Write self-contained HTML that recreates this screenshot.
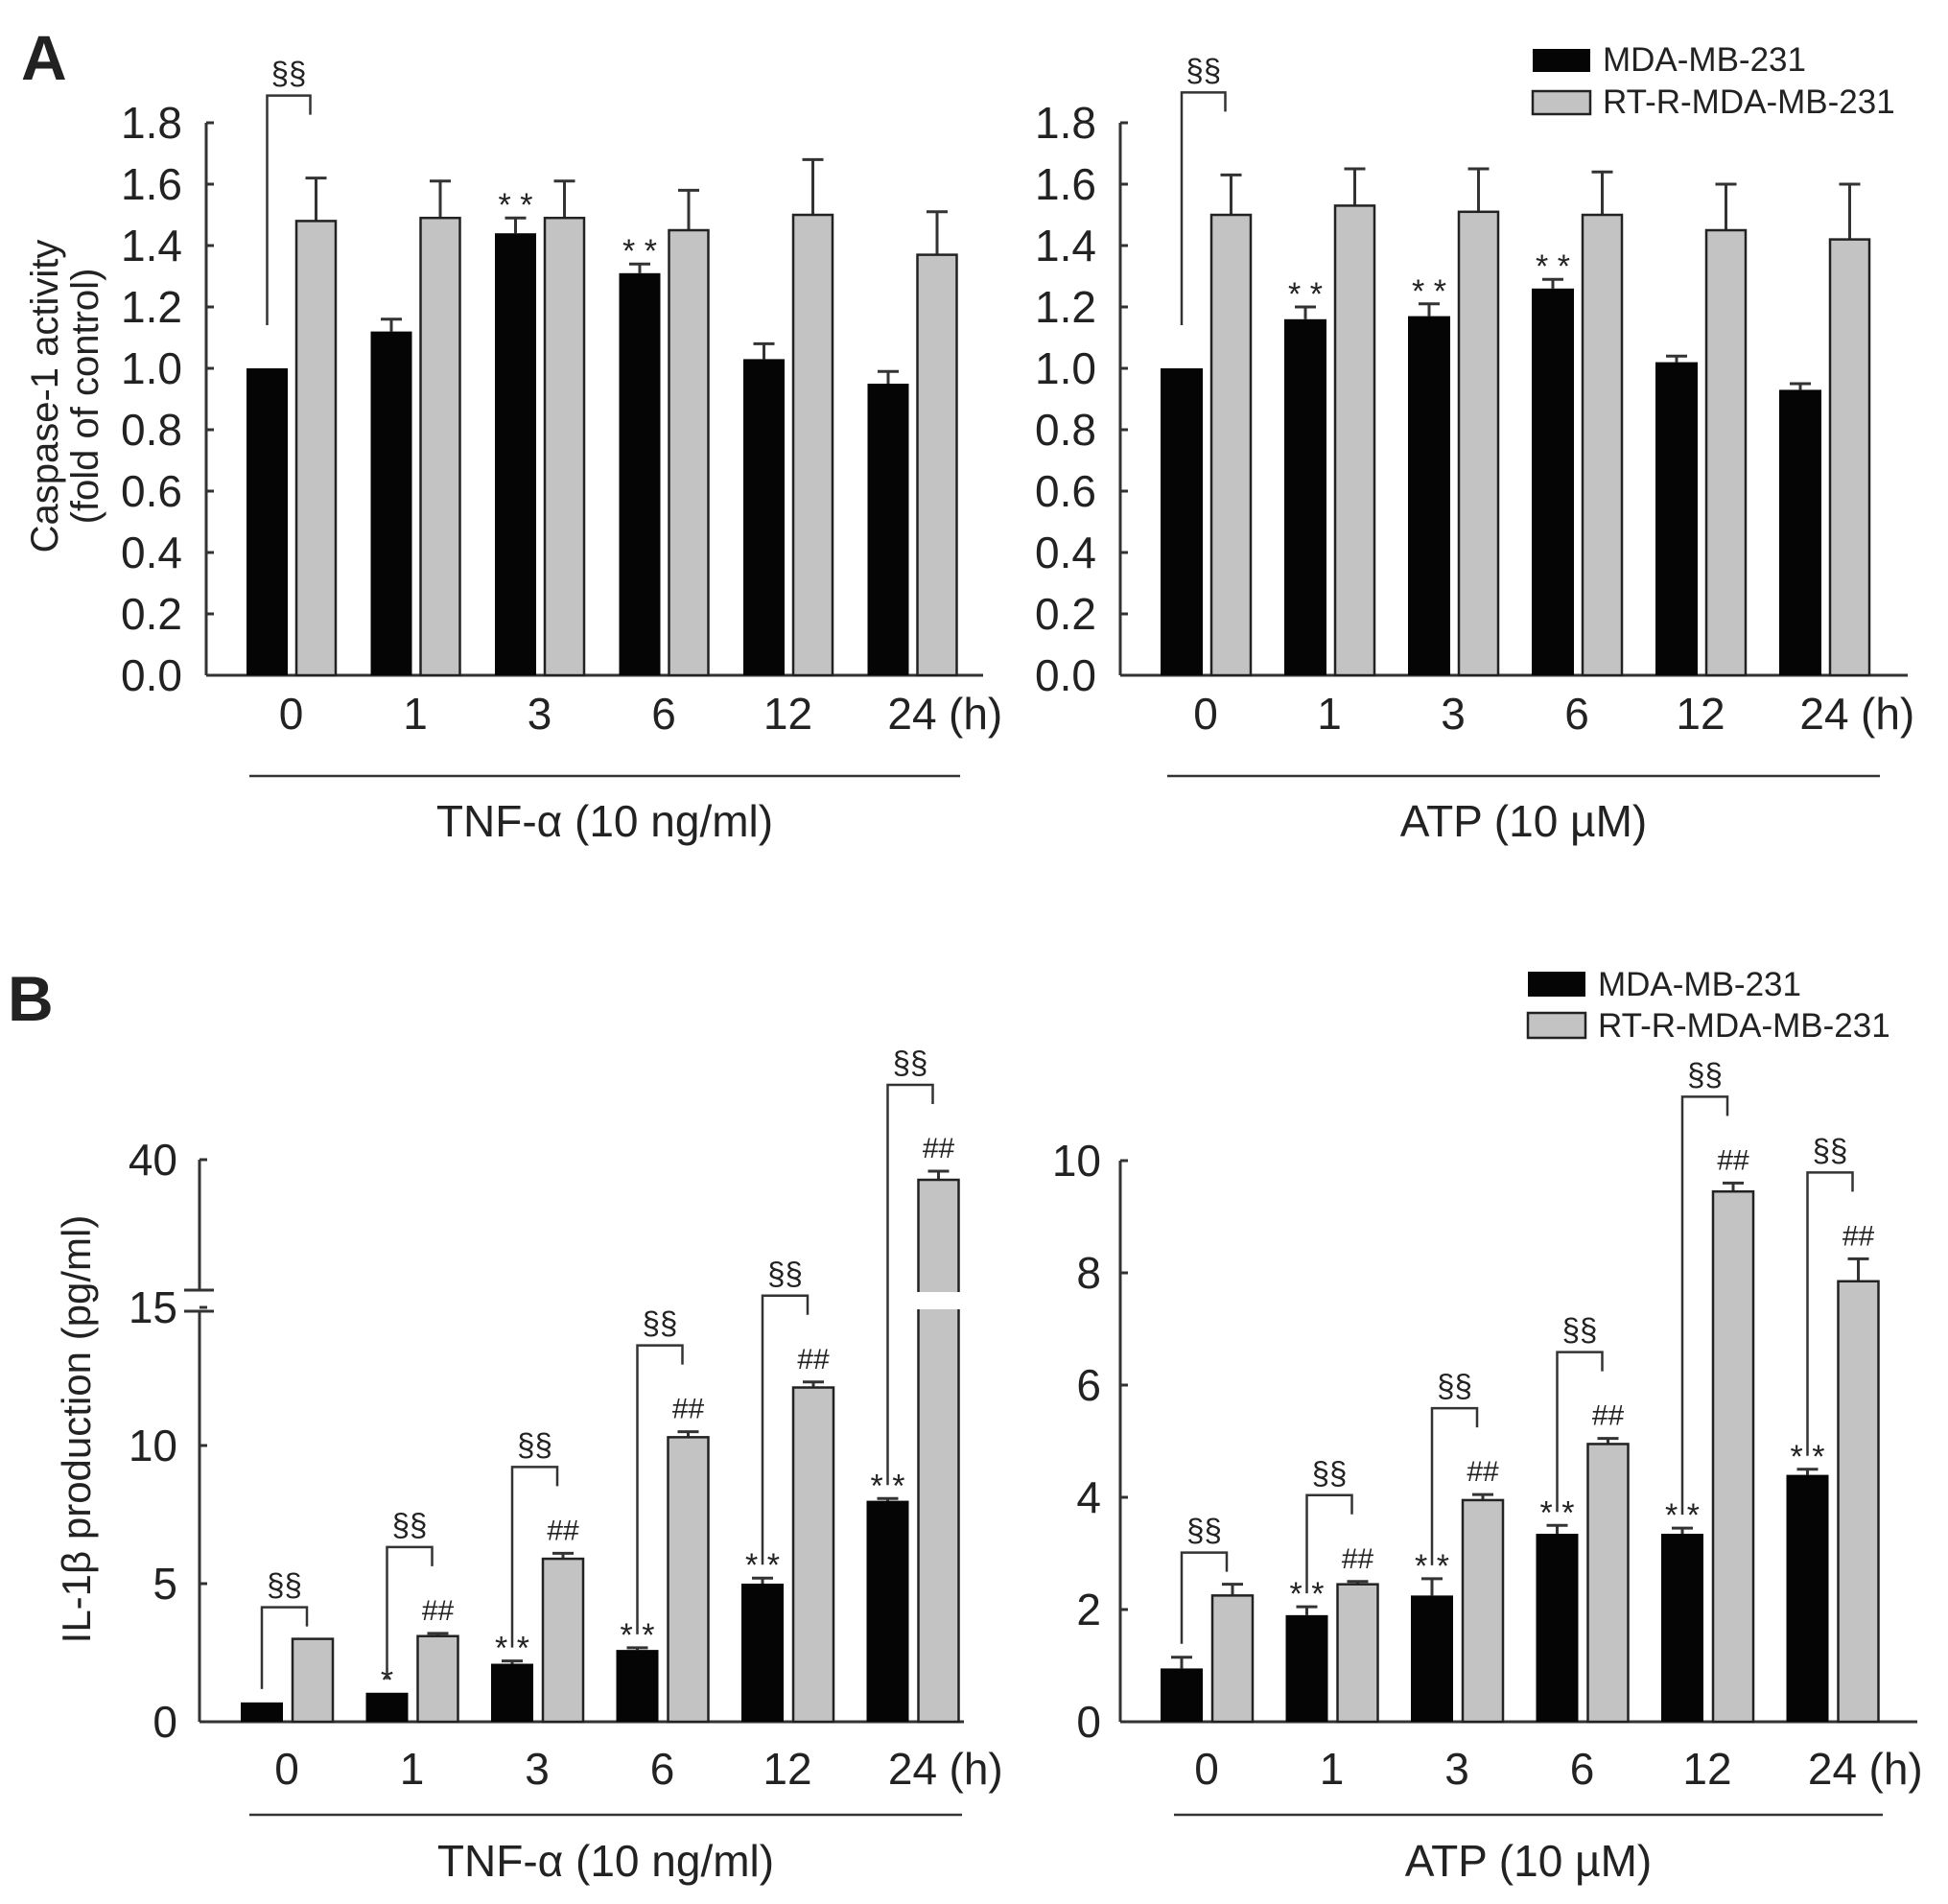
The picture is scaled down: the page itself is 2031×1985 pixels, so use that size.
<!DOCTYPE html>
<html><head><meta charset="utf-8"><style>
html,body{margin:0;padding:0;background:#fff;}
svg{display:block;}
text{font-family:"Liberation Sans",Arial,sans-serif;fill:#222;}
</style></head><body>
<svg id="fig" xmlns="http://www.w3.org/2000/svg" width="2031" height="1985" viewBox="0 0 2031 1985">
<text x="22" y="83" font-size="66" font-weight="bold">A</text>
<text x="8" y="1064" font-size="66" font-weight="bold">B</text>
<text transform="translate(60,413) rotate(-90)" text-anchor="middle" font-size="40">Caspase-1 activity</text>
<text transform="translate(102,413) rotate(-90)" text-anchor="middle" font-size="40">(fold of control)</text>
<text transform="translate(94,1490) rotate(-90)" text-anchor="middle" font-size="42">IL-1β  production (pg/ml)</text>
</svg>
<script>
const categories = ["0","1","3","6","12","24"];
// Panel A left (TNF)
const aTnfBlack = [1.0,1.12,1.44,1.31,1.03,0.95];
const aTnfBlackErr = [0,0.04,0.05,0.03,0.05,0.04];
const aTnfGray = [1.48,1.49,1.49,1.45,1.50,1.37];
const aTnfGrayErr = [0.14,0.12,0.12,0.13,0.18,0.14];
// Panel A right (ATP)
const aAtpBlack = [1.0,1.16,1.17,1.26,1.02,0.93];
const aAtpBlackErr = [0,0.04,0.04,0.03,0.02,0.02];
const aAtpGray = [1.50,1.53,1.51,1.50,1.45,1.42];
const aAtpGrayErr = [0.13,0.12,0.14,0.14,0.15,0.18];
// Panel B left (TNF)
const bTnfBlack = [0.7,1.05,2.1,2.6,5.0,8.0];
const bTnfBlackErr = [0,0,0.1,0.08,0.2,0.08];
const bTnfGray = [3.0,3.1,5.9,10.3,12.1,39.3];
const bTnfGrayErr = [0,0.1,0.2,0.2,0.2,0.3];
// Panel B right (ATP)
const bAtpBlack = [0.95,1.9,2.25,3.35,3.35,4.4];
const bAtpBlackErr = [0.2,0.15,0.3,0.15,0.1,0.1];
const bAtpGray = [2.25,2.45,3.95,4.95,9.45,7.85];
const bAtpGrayErr = [0.2,0.05,0.1,0.1,0.15,0.4];
const aTicks = ["0.0","0.2","0.4","0.6","0.8","1.0","1.2","1.4","1.6","1.8"];
const bTnfTicks = ["0","5","10","15","40"];
const bAtpTicks = ["0","2","4","6","8","10"];
const aTnfStars = ["","","**","**","",""];
const aAtpStars = ["","**","**","**","",""];
const bTnfStars = ["","*","**","**","**","**"];
const bAtpStars = ["","**","**","**","**","**"];
const bHash = ["","##","##","##","##","##"];
const aBrackets = [true,false,false,false,false,false];
const bBrackets = [true,true,true,true,true,true];

const NS="http://www.w3.org/2000/svg";
const svg=document.getElementById('fig');
function mk(tag,attrs,parent){const e=document.createElementNS(NS,tag);for(const k in attrs)e.setAttribute(k,attrs[k]);(parent||svg).appendChild(e);return e;}
function txt(x,y,s,size,anchor,parent){const t=mk('text',{x:x,y:y,'font-size':size,'text-anchor':anchor||'middle'},parent);t.textContent=s;return t;}

function panel(cfg){
  const g=mk('g',{});
  
  
  const ax=cfg.axisX, y0=cfg.y(0);
  const xa=mk('line',{x1:ax,y1:y0,x2:cfg.axisEnd,y2:y0,stroke:'#333','stroke-width':3},g);
  
  
  if(cfg.breakAt){
    const yb=cfg.breakAt;
    const ya1=mk('line',{x1:ax,y1:y0,x2:ax,y2:yb[1],stroke:'#333','stroke-width':3},g);
    
    
    const ya2=mk('line',{x1:ax,y1:yb[0],x2:ax,y2:cfg.axisTop,stroke:'#333','stroke-width':3},g);
    
    
    mk('line',{x1:ax-16,y1:yb[0],x2:ax+15,y2:yb[0],stroke:'#333','stroke-width':3},g);
    mk('line',{x1:ax-16,y1:yb[1],x2:ax+15,y2:yb[1],stroke:'#333','stroke-width':3},g);
  } else {
    const ya=mk('line',{x1:ax,y1:y0,x2:ax,y2:cfg.axisTop,stroke:'#333','stroke-width':3},g);
    
    
  }
  cfg.ticks.forEach(t=>{
    const v=parseFloat(t), ty=cfg.y(v);
    mk('line',{x1:ax,y1:ty,x2:ax+8,y2:ty,stroke:'#333','stroke-width':3},g);
    const tl=txt(cfg.tickRight,ty+16,t,46,'end',g);
    
    
  });
  categories.forEach((c,i)=>{
    const bx=cfg.x0+i*cfg.step, gx=bx+cfg.gOff;
    const bTop=cfg.y(cfg.black[i]), gTop=cfg.y(cfg.gray[i]);
    const bErrTop=cfg.y(cfg.black[i]+cfg.blackErr[i]), gErrTop=cfg.y(cfg.gray[i]+cfg.grayErr[i]);
    if(cfg.blackErr[i]>0){
      mk('line',{x1:bx+cfg.bw/2,y1:bTop,x2:bx+cfg.bw/2,y2:bErrTop,stroke:'#333','stroke-width':3},g);
      mk('line',{x1:bx+cfg.bw/2-11,y1:bErrTop,x2:bx+cfg.bw/2+11,y2:bErrTop,stroke:'#333','stroke-width':3},g);
    }
    if(cfg.grayErr[i]>0){
      mk('line',{x1:gx+cfg.gw/2,y1:gTop,x2:gx+cfg.gw/2,y2:gErrTop,stroke:'#333','stroke-width':3},g);
      mk('line',{x1:gx+cfg.gw/2-11,y1:gErrTop,x2:gx+cfg.gw/2+11,y2:gErrTop,stroke:'#333','stroke-width':3},g);
    }
    const rb=mk('rect',{x:bx,y:bTop,width:cfg.bw,height:y0-bTop,fill:'#050505'},g);
    
    
    const rg=mk('rect',{x:gx,y:gTop,width:cfg.gw,height:y0-gTop,fill:'#c3c3c3',stroke:'#222','stroke-width':2.5},g);
    
    
    if(cfg.breakAt && cfg.gray[i]>15){
      mk('rect',{x:gx-3,y:cfg.breakAt[0]+2,width:cfg.gw+6,height:cfg.breakAt[1]-cfg.breakAt[0]-4,fill:'#fff'},g);
    }
    const xl=txt(bx+(cfg.gOff+cfg.gw)/2,cfg.xLabelY,c,46,'middle',g);
    
    
    if(cfg.stars[i]){
      const s=txt(bx+cfg.bw/2,bErrTop-2,cfg.stars[i].split('').join(' '),34,'middle',g);
      s.setAttribute('fill','#555');
      
      
    }
    if(cfg.hash && cfg.hash[i]){
      const h=txt(gx+cfg.gw/2,gErrTop-14,cfg.hash[i],30,'middle',g);
      
      
    }
    if(cfg.brackets[i]){
      const hasHash=cfg.hash && cfg.hash[i];
      const top=gErrTop-(hasHash?cfg.brHash:cfg.brNo);
      const lx=bx+cfg.bw/2, rx=gx+cfg.gw/2-6;
      const ly=bErrTop-cfg.brGap;
      const p=mk('path',{d:`M${lx},${ly} V${top} H${rx} V${top+20}`,fill:'none',stroke:'#333','stroke-width':2.5},g);
      
      
      const st=txt((lx+rx)/2,top-12,'§§',33,'middle',g);
      
      
    }
  });
  const hl=txt(cfg.x0+5*cfg.step+(cfg.gOff+cfg.gw)/2+38,cfg.xLabelY,'(h)',46,'start',g);
  
  
  const ul=mk('line',{x1:cfg.ul[0],y1:cfg.ulY,x2:cfg.ul[1],y2:cfg.ulY,stroke:'#333','stroke-width':2.5},g);
  
  
  const tl=txt((cfg.ul[0]+cfg.ul[1])/2,cfg.treatY,cfg.treat,46,'middle',g);
  
  
}

function legend(x,y1,y2,h,name){
  const g=mk('g',{});
  
  
  const r1=mk('rect',{x:x,y:y1,width:60,height:h,fill:'#050505'},g);
  
  
  const r2=mk('rect',{x:x,y:y2,width:60,height:h,fill:'#c3c3c3',stroke:'#222','stroke-width':2.5},g);
  
  
  const t1=txt(x+73,y1+h-1,'MDA-MB-231',35,'start',g);
  
  
  const t2=txt(x+73,y2+h-1,'RT-R-MDA-MB-231',35,'start',g);
  
  
}

const yA=v=>704-v*320;
panel({name:'panel-a-tnf',axisX:215,axisEnd:1025,axisTop:128,y:yA,ticks:aTicks,tickRight:190,
  x0:257,step:129.5,bw:43,gOff:52,gw:41,black:aTnfBlack,blackErr:aTnfBlackErr,gray:aTnfGray,grayErr:aTnfGrayErr,
  stars:aTnfStars,brackets:aBrackets,brNo:86,brHash:86,brGap:45,xLabelY:760,ul:[260,1001],ulY:809,treatY:872,treat:'TNF-α (10 ng/ml)'});
panel({name:'panel-a-atp',axisX:1168,axisEnd:1989,axisTop:128,y:yA,ticks:aTicks,tickRight:1143,
  x0:1210,step:129,bw:44,gOff:53,gw:41,black:aAtpBlack,blackErr:aAtpBlackErr,gray:aAtpGray,grayErr:aAtpGrayErr,
  stars:aAtpStars,brackets:aBrackets,brNo:86,brHash:86,brGap:45,xLabelY:760,ul:[1217,1960],ulY:809,treatY:872,treat:'ATP (10 µM)'});
const yBt=v=> v<=15 ? 1795-v*28.8 : 1209+(40-v)*30;
panel({name:'panel-b-tnf',axisX:208,axisEnd:1005,axisTop:1209,y:yBt,ticks:bTnfTicks,tickRight:185,breakAt:[1345,1367],
  x0:251,step:130.5,bw:44,gOff:54,gw:42,black:bTnfBlack,blackErr:bTnfBlackErr,gray:bTnfGray,grayErr:bTnfGrayErr,
  stars:bTnfStars,hash:bHash,brackets:bBrackets,brNo:33,brHash:90,brGap:14,xLabelY:1860,ul:[260,1003],ulY:1892,treatY:1956,treat:'TNF-α (10 ng/ml)'});
const yBa=v=>1795-v*58.5;
panel({name:'panel-b-atp',axisX:1168,axisEnd:1999,axisTop:1210,y:yBa,ticks:bAtpTicks,tickRight:1148,
  x0:1210,step:130.5,bw:44,gOff:54,gw:42,black:bAtpBlack,blackErr:bAtpBlackErr,gray:bAtpGray,grayErr:bAtpGrayErr,
  stars:bAtpStars,hash:bHash,brackets:bBrackets,brNo:33,brHash:90,brGap:14,xLabelY:1860,ul:[1224,1963],ulY:1892,treatY:1956,treat:'ATP (10 µM)'});
legend(1598,51,95,24,'legend-a');
legend(1593,1013,1056,26,'legend-b');
</script>
</body></html>
